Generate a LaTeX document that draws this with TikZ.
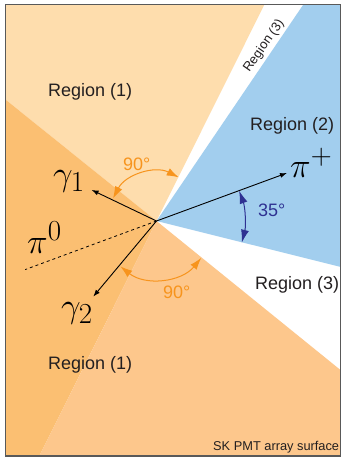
\documentclass[tikz,border=0pt]{standalone}
\usepackage{graphicx}
\usepackage{fontspec}
\newfontfamily\arialish{Liberation Sans}
\usetikzlibrary{calc,arrows.meta}
\definecolor{lor}{RGB}{254,221,173}
\definecolor{dor}{RGB}{251,191,114}
\definecolor{mor}{RGB}{253,199,140}
\definecolor{sky}{RGB}{162,206,238}
\definecolor{ostroke}{RGB}{247,148,29}
\definecolor{navy}{RGB}{46,49,146}
\definecolor{ink}{RGB}{35,31,32}
\newcommand{\bigmath}[1]{\scalebox{1.4}{\fontsize{24.88}{27}\selectfont$#1$}}
\tikzset{
  lbl/.style={inner sep=0pt,anchor=base west,text=ink,font=\arialish\fontsize{18}{20}\selectfont},
  olbl/.style={lbl,text=ostroke},
  nlbl/.style={lbl,text=navy},
  mlbl/.style={inner sep=0pt,anchor=base west,text=black},
  particle/.style={draw=black,line width=0.9pt,-{Latex[length=7pt,width=5pt]}},
  oarc/.style={draw=ostroke,line width=1pt,{Latex[length=12pt,width=8pt]}-{Latex[length=12pt,width=8pt]}},
  narc/.style={draw=navy,line width=1pt,{Latex[length=13pt,width=8pt]}-{Latex[length=13pt,width=8pt]}},
}
\begin{document}
\begin{tikzpicture}[x=1pt,y=1pt]
\useasboundingbox (0,0) rectangle (342,-458);
\coordinate (C) at (156.5,-221);
\begin{scope}
\clip (5.5,-4.5) rectangle (340.5,-456);
\fill[white] (5.5,-4.5) rectangle (340.5,-456);
\fill[lor] (C) -- ++(63.5:700) arc[start angle=63.5,end angle=141.2,radius=700] -- cycle;
\fill[dor] (C) -- ++(141.2:700) arc[start angle=141.2,end angle=243.5,radius=700] -- cycle;
\fill[mor] (C) -- ++(243.5:700) arc[start angle=243.5,end angle=321,radius=700] -- cycle;
\fill[sky] (C) -- ++(-14:700) arc[start angle=-14,end angle=55.85,radius=700] -- cycle;
\end{scope}
\draw[line width=1.2pt,draw=black!65] (5.5,-4.5) rectangle (340.5,-456);

% particles
\coordinate (pip) at ($(C)+(20.2:139)$);
\coordinate (g1) at ($(C)+(154.4:72)$);
\coordinate (g2) at ($(C)+(230.1:98.6)$);
\coordinate (pz) at ($(C)+(200.3:140)$);
\draw[line width=0.8pt,dash pattern=on 3pt off 3pt] (C) -- (pz);
\draw[particle] (C) -- (pip);
\draw[particle] (C) -- (g1);
\draw[particle] (C) -- (g2);

% angle arcs
\draw[oarc] ($(C)+(63:49)$) arc[start angle=63,end angle=152.5,radius=49];
\draw[oarc] ($(C)+(231.5:58)$) arc[start angle=231.5,end angle=320.5,radius=58];
\draw[narc] ($(C)+(20.2:88)$) arc[start angle=20.2,end angle=-14.3,radius=88];

% labels
\node[lbl] (r1a) at (48,-96.5) {Region (1)};
\node[lbl] (r1b) at (48,-369.5) {Region (1)};
\node[lbl] (r2) at (250,-130.5) {Region (2)};
\node[lbl] (r3) at (255,-289) {Region (3)};
\node[inner sep=0pt,text=ink,font=\arialish\fontsize{13}{14}\selectfont,rotate=55] (r3s) at (264,-46) {Region (3)};
\node[lbl,font=\arialish\fontsize{12.8}{14}\selectfont] (sk) at (213,-450.5) {SK PMT array surface};
\node[olbl] (n90a) at (123,-170.5) {90°};
\node[olbl] (n90b) at (163,-298) {90°};
\node[nlbl] (n35) at (258,-216) {35°};
\node[mlbl] (lg1) at (53,-185) {\bigmath{\gamma_1}};
\node[mlbl] (lg2) at (61,-317) {\bigmath{\gamma_2}};
\node[mlbl] (lpz) at (27,-253) {\bigmath{\pi^0}};
\node[mlbl] (lpp) at (290,-177) {\bigmath{\pi^+}};
\end{tikzpicture}
\end{document}
